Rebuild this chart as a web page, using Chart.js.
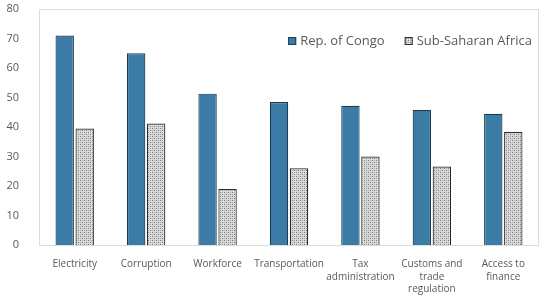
<!DOCTYPE html>
<html lang="en">
<head>
  <meta charset="UTF-8">
  <title>Business constraints</title>
  <script src="https://cdn.jsdelivr.net/npm/chart.js@4.4.1/dist/chart.umd.min.js"></script>
  <style>
    html, body { margin: 0; padding: 0; background: #fff; }
    #wrap { width: 540px; height: 297px; position: relative; }
  </style>
</head>
<body>
  <div id="wrap"><canvas id="barChart"></canvas></div>

  <script>
    const categories = [
      'Electricity',
      'Corruption',
      'Workforce',
      'Transportation',
      ['Tax', 'administration'],
      ['Customs and', 'trade', 'regulation'],
      ['Access to', 'finance']
    ];
    const congoValues = [71, 65, 51.3, 48.5, 47.2, 45.8, 44.5];
    const ssaValues = [39.5, 41.2, 19, 26, 30, 26.6, 38.3];
    const yTicks = [0, 10, 20, 30, 40, 50, 60, 70, 80];

    // crosshatch fill for the regional series
    function makeHatch() {
      const c = document.createElement('canvas');
      c.width = 4; c.height = 4;
      const g = c.getContext('2d');
      g.fillStyle = '#dadada';
      g.fillRect(0, 0, 4, 4);
      g.fillStyle = '#7a7a7a';
      g.fillRect(0, 0, 1, 1);
      g.fillRect(2, 2, 1, 1);
      g.fillStyle = '#a8a8a8';
      g.fillRect(2, 0, 1, 1);
      g.fillRect(0, 2, 1, 1);
      return g.createPattern(c, 'repeat');
    }

    // light frame round the plot
    const plotBox = {
      id: 'plotBox',
      beforeDatasetsDraw(chart) {
        const { ctx, chartArea } = chart;
        ctx.save();
        ctx.strokeStyle = '#dcdcdc';
        ctx.lineWidth = 1;
        ctx.strokeRect(chartArea.left + 0.5, chartArea.top + 0.5,
          chartArea.right - chartArea.left - 1, chartArea.bottom - chartArea.top);
        ctx.restore();
      }
    };

    // legend drawn inside the plot, top right
    const innerLegend = {
      id: 'innerLegend',
      afterDraw(chart) {
        const { ctx, chartArea } = chart;
        ctx.save();
        ctx.font = '13px "Open Sans"';
        ctx.textBaseline = 'middle';
        const y = chartArea.top + 32;
        let x = chartArea.right - 7;
        const sets = chart.data.datasets.slice().reverse();
        sets.forEach((ds) => {
          const w = ctx.measureText(ds.label).width;
          x -= w;
          ctx.fillStyle = '#595959';
          ctx.fillText(ds.label, x, y);
          x -= 12;
          ctx.fillStyle = ds.backgroundColor;
          ctx.fillRect(x, y - 4, 8, 8);
          ctx.strokeStyle = ds.borderColor;
          ctx.lineWidth = 1;
          ctx.strokeRect(x + 0.5, y - 3.5, 7, 7);
          x -= 20;
        });
        ctx.restore();
      }
    };

    const ctx = document.getElementById('barChart').getContext('2d');
    new Chart(ctx, {
      type: 'bar',
      data: {
        labels: categories,
        datasets: [{
          label: 'Rep. of Congo',
          data: congoValues,
          backgroundColor: '#3a7ca5',
          borderColor: '#1d3a4f',
          borderWidth: 1.2
        }, {
          label: 'Sub-Saharan Africa',
          data: ssaValues,
          backgroundColor: makeHatch(),
          borderColor: '#2b2b2b',
          borderWidth: 1.2
        }]
      },
      options: {
        responsive: true,
        maintainAspectRatio: false,
        animation: false,
        layout: { padding: { top: 9, right: 1, left: 0, bottom: 0 } },
        datasets: {
          bar: { categoryPercentage: 0.56, barPercentage: 0.92 }
        },
        scales: {
          x: {
            grid: { display: false },
            border: { display: false },
            ticks: {
              color: '#595959',
              font: { family: 'Open Sans', size: 10, lineHeight: 1.25 },
              maxRotation: 0,
              autoSkip: false,
              padding: 5
            },
            afterFit(scale) { scale.height = 52; }
          },
          y: {
            min: 0,
            max: 80,
            afterBuildTicks(scale) { scale.ticks = yTicks.map(v => ({ value: v })); },
            grid: { display: false },
            border: { display: false },
            ticks: {
              color: '#595959',
              font: { family: 'Open Sans', size: 11 },
              padding: 12
            },
            afterFit(scale) {
              scale.width = 39;
              scale.paddingTop = 0;
              scale.paddingBottom = 0;
            }
          }
        },
        plugins: {
          legend: { display: false },
          tooltip: { enabled: false }
        }
      },
      plugins: [plotBox, innerLegend]
    });
  </script>
</body>
</html>
